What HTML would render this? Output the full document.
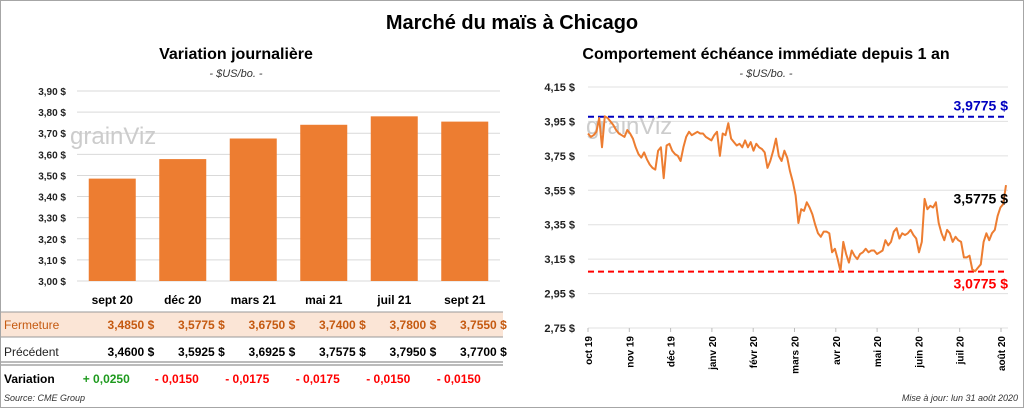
<!DOCTYPE html>
<html><head><meta charset="utf-8"><style>
body{margin:0;background:#fff}
svg{display:block;font-family:"Liberation Sans",sans-serif}
</style></head><body>
<svg id="s" width="1024" height="408" viewBox="0 0 1024 408" xmlns="http://www.w3.org/2000/svg">
<rect x="0.5" y="0.5" width="1023" height="407" fill="#fff" stroke="#a6a6a6"/>
<text x="512" y="29" text-anchor="middle" font-size="20" font-weight="bold" fill="#000">Marché du maïs à Chicago</text>
<text x="236" y="59" text-anchor="middle" font-size="16" font-weight="bold">Variation  journalière</text>
<text x="236" y="77" text-anchor="middle" font-size="11" font-style="italic" fill="#333">- $US/bo. -</text>
<text x="766" y="59" text-anchor="middle" font-size="16" font-weight="bold">Comportement  échéance immédiate depuis 1 an</text>
<text x="766" y="77" text-anchor="middle" font-size="11" font-style="italic" fill="#333">- $US/bo. -</text>
<g id="left"></g>
<g id="right"></g>
<g id="table"></g>
<text x="4" y="401" font-size="9" font-style="italic" fill="#333">Source: CME Group</text>
<text x="1018" y="401" text-anchor="end" font-size="9" font-style="italic" fill="#333">Mise à jour: lun 31 août 2020</text>
</svg>
<script>
const contracts=["sept 20","déc 20","mars 21","mai 21","juil 21","sept 21"];
const closeVals=[3.4850,3.5775,3.6750,3.7400,3.7800,3.7550];
const prevVals=[3.4600,3.5925,3.6925,3.7575,3.7950,3.7700];
const barTicks=[3.00,3.10,3.20,3.30,3.40,3.50,3.60,3.70,3.80,3.90];
const monthLabels=["oct 19","nov 19","déc 19","janv 20","févr 20","mars 20","avr 20","mai 20","juin 20","juil 20","août 20"];
const lineTicks=[2.75,2.95,3.15,3.35,3.55,3.75,3.95,4.15];
const priceSeries=[3.88,3.86,3.87,3.89,3.97,3.80,3.98,3.97,3.95,3.93,3.90,3.88,3.87,3.86,3.90,3.88,3.85,3.80,3.76,3.74,3.77,3.73,3.70,3.68,3.67,3.78,3.80,3.62,3.81,3.82,3.78,3.76,3.75,3.72,3.80,3.86,3.89,3.87,3.88,3.89,3.88,3.88,3.86,3.85,3.84,3.87,3.89,3.75,3.88,3.87,3.94,3.85,3.83,3.81,3.82,3.80,3.84,3.80,3.83,3.78,3.82,3.80,3.79,3.77,3.68,3.72,3.78,3.85,3.75,3.72,3.78,3.74,3.66,3.60,3.52,3.36,3.44,3.43,3.48,3.45,3.41,3.35,3.30,3.28,3.31,3.31,3.30,3.19,3.21,3.15,3.08,3.25,3.18,3.13,3.20,3.17,3.15,3.18,3.19,3.21,3.19,3.20,3.20,3.18,3.19,3.20,3.26,3.23,3.25,3.31,3.33,3.27,3.30,3.29,3.30,3.32,3.29,3.27,3.19,3.25,3.50,3.44,3.46,3.45,3.48,3.36,3.30,3.26,3.32,3.30,3.25,3.28,3.26,3.25,3.16,3.16,3.17,3.09,3.08,3.10,3.12,3.25,3.30,3.26,3.30,3.32,3.40,3.45,3.47,3.58];
const highVal=3.9775, lowVal=3.0775, lastVal=3.5775;

const NS="http://www.w3.org/2000/svg";
function mk(p,t,a,txt){const e=document.createElementNS(NS,t);for(const k in a)e.setAttribute(k,a[k]);if(txt!==undefined)e.textContent=txt;p.appendChild(e);return e;}
const fmt=(v,d)=>v.toFixed(d).replace('.',',');

// bar chart
const L=document.getElementById('left');
const bx0=77,bx1=500,by0=281,by1=91;
const yB=v=>by0-(v-3.0)/(0.9)*(by0-by1);
const band=(bx1-bx0)/contracts.length;
const xB=i=>bx0+band*(i+0.5);
barTicks.forEach(t=>{
 const g=mk(L,'line',{x1:bx0,x2:bx1,y1:yB(t),y2:yB(t),stroke:'#d9d9d9','stroke-width':1});
 
 
 const l=mk(L,'text',{x:66,y:yB(t)+4,'text-anchor':'end','font-size':10,'font-weight':'bold',fill:'#222'},fmt(t,2)+' $');
 
 
});
const wm=mk(L,'text',{x:70,y:144,'font-size':24,fill:'#ccc'},'grainViz');


closeVals.forEach((v,i)=>{
 const r=mk(L,'rect',{x:xB(i)-23.5,y:yB(v),width:47,height:by0-yB(v),fill:'#ed7d31'});
 
 
});

// table
const T=document.getElementById('table');
const bg=mk(T,'rect',{x:1,y:312,width:502,height:25,fill:'#fbe5d6'});


[[1,312],[1,337]].forEach(([x,y])=>{const l=mk(T,'line',{x1:1,x2:503,y1:y,y2:y,stroke:'#999'});});
[362,365].forEach(y=>{const l=mk(T,'line',{x1:1,x2:503,y1:y,y2:y,stroke:'#777'});});
const rowLabel=(y,t,c,b)=>{const e=mk(T,'text',{x:4,y:y,'font-size':12,'font-weight':b?'bold':'normal',fill:c},t);};
rowLabel(329,'Fermeture','#c55a11',false);
rowLabel(356,'Précédent','#222',false);
rowLabel(383,'Variation','#000',true);
contracts.forEach((c,i)=>{
 const x=xB(i);
 const h=mk(T,'text',{x:x,y:304,'text-anchor':'middle','font-size':12,'font-weight':'bold'},c);
 
 
 const a=mk(T,'text',{x:x+42,y:329,'text-anchor':'end','font-size':12,'font-weight':'bold',fill:'#c55a11'},fmt(closeVals[i],4)+'  $');
 
 
 const b=mk(T,'text',{x:x+42,y:356,'text-anchor':'end','font-size':12,'font-weight':'bold',fill:'#000'},fmt(prevVals[i],4)+'  $');
 
 
 const d=closeVals[i]-prevVals[i];
 const s=(d>=0?'+ ':'- ')+fmt(Math.abs(d),4);
 const e=mk(T,'text',{x:x-6,y:383,'text-anchor':'middle','font-size':12,'font-weight':'bold',fill:d>=0?'#1e9a1e':'#ff0000'},s);
 
 
});

// line chart
const R=document.getElementById('right');
const lx0=588,lx1=1008,ly0=328,ly1=87;
const yL=v=>ly0-(v-2.75)/1.4*(ly0-ly1);
const mStep=41.3;
const xM=i=>lx0+i*mStep;
lineTicks.forEach(t=>{
 const g=mk(R,'line',{x1:lx0,x2:lx1,y1:yL(t),y2:yL(t),stroke:'#e0e0e0'});
 
 
 const l=mk(R,'text',{x:575,y:yL(t)+4,'text-anchor':'end','font-size':11,'font-weight':'bold',fill:'#222'},fmt(t,2)+' $');
 
 
});
const wm2=mk(R,'text',{x:586,y:134,'font-size':24,fill:'#ccc'},'grainViz');


monthLabels.forEach((m,i)=>{
 const x=xM(i);
 const t=mk(R,'line',{x1:x,x2:x,y1:ly0,y2:ly0+4,stroke:'#bbb'});
 
 
 const l=mk(R,'text',{x:x+4,y:ly0+8,'text-anchor':'end','font-size':10,'font-weight':'bold',transform:`rotate(-90 ${x+4} ${ly0+8})`},m);
 
 
});
const hi=mk(R,'line',{x1:lx0,x2:lx1,y1:yL(highVal),y2:yL(highVal),stroke:'#0000c0','stroke-width':2,'stroke-dasharray':'6,4'});


const lo=mk(R,'line',{x1:lx0,x2:lx1,y1:yL(lowVal),y2:yL(lowVal),stroke:'#ff0000','stroke-width':2,'stroke-dasharray':'6,4'});


const n=priceSeries.length;
const xP=i=>lx0+i*(1006-lx0)/(n-1);
const pts=priceSeries.map((v,i)=>xP(i).toFixed(1)+','+yL(v).toFixed(1)).join(' ');
const pl=mk(R,'polyline',{points:pts,fill:'none',stroke:'#ed7d31','stroke-width':2,'stroke-linejoin':'round'});


const hl=mk(R,'text',{x:1008,y:yL(highVal)-6,'text-anchor':'end','font-size':14,'font-weight':'bold',fill:'#0000c0'},fmt(highVal,4)+' $');


const ll=mk(R,'text',{x:1008,y:yL(lowVal)+17,'text-anchor':'end','font-size':14,'font-weight':'bold',fill:'#ff0000'},fmt(lowVal,4)+' $');


const cl=mk(R,'text',{x:1008,y:yL(lastVal)+18,'text-anchor':'end','font-size':14,'font-weight':'bold',fill:'#000'},fmt(lastVal,4)+' $');


</script>
</body></html>
